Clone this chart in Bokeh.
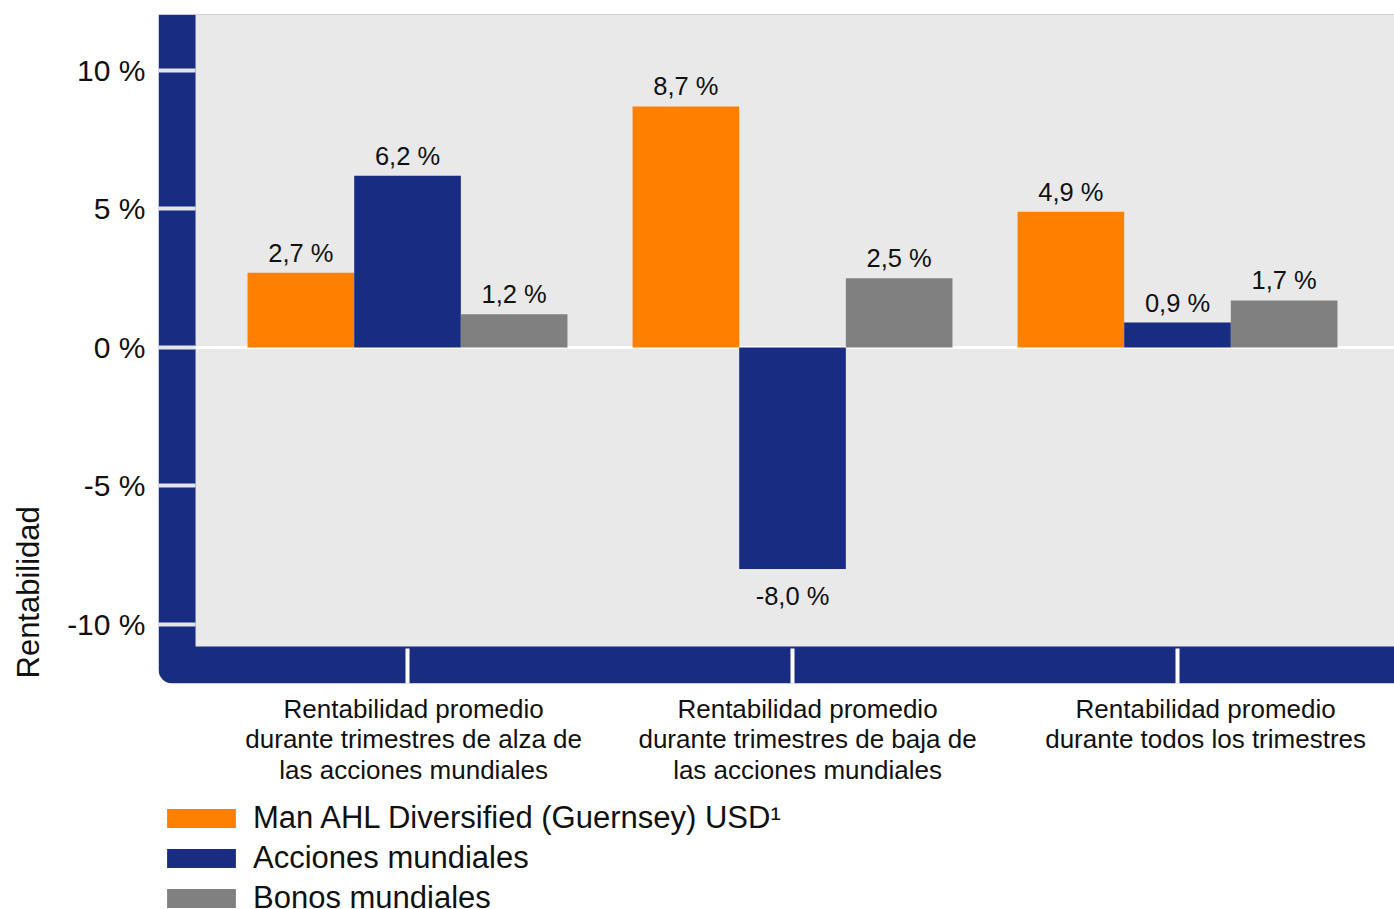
import math
from bokeh.plotting import figure
from bokeh.layouts import column
from bokeh.core.properties import value
from bokeh.models import (Range1d, FixedTicker, LinearAxis, BoxAnnotation, Span,
                          Title, LabelSet, ColumnDataSource, Legend, LegendItem)
from bokeh.transform import dodge
from bokeh.embed import file_html
from bokeh.resources import INLINE

# ---------------- data ----------------
categories = [
    "Rentabilidad promedio\ndurante trimestres de alza de\nlas acciones mundiales",
    "Rentabilidad promedio\ndurante trimestres de baja de\nlas acciones mundiales",
    "Rentabilidad promedio\ndurante todos los trimestres",
]
series_names = ["Man AHL Diversified (Guernsey) USD\u00b9", "Acciones mundiales", "Bonos mundiales"]
man_ahl = [2.7, 8.7, 4.9]
acciones = [6.2, -8.0, 0.9]
bonos = [1.2, 2.5, 1.7]
y_ticks = [-10, -5, 0, 5, 10]
y_tick_labels = ["-10 %", "-5 %", "0 %", "5 %", "10 %"]
y_title = "Rentabilidad"

# ---------------- style / layout ----------------
FONT = "Liberation Sans"
ORANGE = "#ff8000"
NAVY = "#182c82"
GRAY = "#808080"
BG = "#e9e9e9"
TXT = "#111111"
BAR_W = 0.277
OFFSETS = [-0.277, 0.0, 0.277]
LABEL_SHIFT = [0.016, 0.039, 0.073]   # category label centre shift (x units)

xs = list(range(len(categories)))
src = ColumnDataSource(dict(x=xs, s0=man_ahl, s1=acciones, s2=bonos))

p = figure(frame_width=1236, frame_height=669,
           x_range=Range1d(-0.6468, 2.5636), y_range=Range1d(-12.13, 12.02),
           output_backend="svg", toolbar_location=None,
           min_border_left=158, min_border_top=14, min_border_right=0, min_border_bottom=117,
           background_fill_color="white", border_fill_color="white",
           outline_line_color=None, x_axis_type=None, y_axis_type=None)
p.xgrid.visible = False
p.ygrid.visible = False

# navy L-shaped frame with rounded bottom-left corner, grey plot area on top
navy_box = BoxAnnotation(fill_color=NAVY, fill_alpha=1, line_color=None,
                         border_radius=(0, 0, 0, 14), level="underlay")
grey_box = BoxAnnotation(left=-0.5506, bottom=-10.79, fill_color=BG, fill_alpha=1,
                         line_color=None, level="underlay")
p.add_layout(navy_box)
p.add_layout(grey_box)
zero = Span(location=0, dimension="width", line_color="white", line_width=3, level="underlay")
p.add_layout(zero)

# bars
colors = [ORANGE, NAVY, GRAY]
for i, (col, off) in enumerate(zip(colors, OFFSETS)):
    p.vbar(x=dodge("x", off, range=p.x_range), top=f"s{i}", bottom=0, width=BAR_W,
           source=src, fill_color=col, line_color=None)

# value labels
def fmt(v):
    return f"{v:.1f}".replace(".", ",") + " %"

pos = dict(x=[], y=[], t=[])
neg = dict(x=[], y=[], t=[])
for vals, off in zip([man_ahl, acciones, bonos], OFFSETS):
    for xi, v in zip(xs, vals):
        d = pos if v >= 0 else neg
        d["x"].append(xi + off)
        d["y"].append(v)
        d["t"].append(fmt(v))
for d, yoff in [(pos, 11), (neg, -36)]:
    ls = LabelSet(x="x", y="y", text="t", source=ColumnDataSource(d), y_offset=yoff,
                  text_align="center", text_baseline="alphabetic",
                  text_font=value(FONT), text_font_size=value("25.5px"),
                  text_color=value(TXT))
    p.add_layout(ls)

# y axis (blank axis label only reserves room between tick labels and title)
yaxis = LinearAxis(ticker=FixedTicker(ticks=y_ticks),
                   major_label_overrides=dict(zip(y_ticks, y_tick_labels)),
                   axis_line_color=None, major_tick_in=37, major_tick_out=0,
                   major_tick_line_color="#e4e4ec", major_tick_line_width=4,
                   minor_tick_line_color=None, major_label_standoff=13,
                   major_label_text_font=FONT, major_label_text_font_size="30px",
                   major_label_text_color=TXT,
                   axis_label=" ", axis_label_standoff=0,
                   axis_label_text_font_size="8px")
p.add_layout(yaxis, "left")

# y title
title = Title(text=y_title, align="left", offset=5, standoff=14,
              text_font=FONT, text_font_size="31px", text_font_style="normal",
              text_color=TXT)
p.add_layout(title, "left")

# x axis ticks (white marks on navy band)
xtick_axis = LinearAxis(ticker=FixedTicker(ticks=xs),
                        major_label_overrides={i: "" for i in xs},
                        axis_line_color=None, major_tick_in=35, major_tick_out=0,
                        major_tick_line_color="white", major_tick_line_width=4,
                        minor_tick_line_color=None, major_label_standoff=0,
                        major_label_text_font_size="1px")
p.add_layout(xtick_axis, "below")

# category labels
lab_pos = [xi + s for xi, s in zip(xs, LABEL_SHIFT)]
xlab_axis = LinearAxis(ticker=FixedTicker(ticks=lab_pos),
                       major_label_overrides=dict(zip(lab_pos, categories)),
                       axis_line_color=None, major_tick_line_color=None,
                       minor_tick_line_color=None, major_label_standoff=4,
                       major_label_text_font=FONT, major_label_text_font_size="26px",
                       major_label_text_line_height=1.03,
                       major_label_text_color=TXT)
p.add_layout(xlab_axis, "below")

# legend (own strip below the chart)
lf = figure(width=1394, height=108, output_backend="svg", toolbar_location=None,
            x_range=Range1d(0, 1), y_range=Range1d(0, 1),
            min_border_left=152, min_border_top=0, min_border_right=0, min_border_bottom=0,
            background_fill_color="white", border_fill_color="white",
            outline_line_color=None, x_axis_type=None, y_axis_type=None)
lf.xgrid.visible = False
lf.ygrid.visible = False
dummy = ColumnDataSource(dict(x=[-5], top=[0]))
items = []
for name, col in zip(series_names, colors):
    r = lf.vbar(x="x", top="top", bottom=0, width=0.1, source=dummy,
                fill_color=col, line_color=None)
    items.append(LegendItem(label=name, renderers=[r]))
legend = Legend(items=items, location="top_left", orientation="vertical",
                glyph_width=86, glyph_height=24, label_standoff=9, label_height=36,
                label_text_font=FONT, label_text_font_size="31px", label_text_color=TXT,
                label_text_baseline="middle",
                spacing=4, padding=0, margin=0, border_line_color=None,
                background_fill_alpha=0)
lf.add_layout(legend)

layout = column(p, lf, spacing=0)
open("out.html", "w").write(file_html(layout, INLINE))
